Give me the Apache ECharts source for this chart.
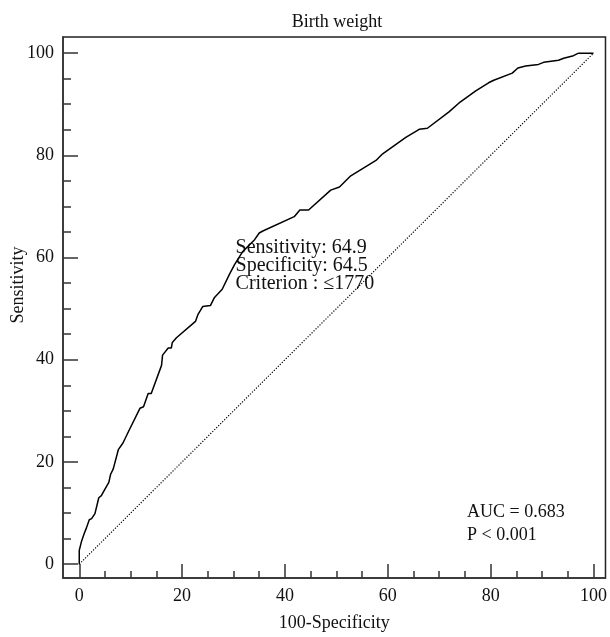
<!DOCTYPE html>
<html><head><meta charset="utf-8">
<script src="https://cdn.jsdelivr.net/npm/echarts@6/dist/echarts.min.js"></script>
<style>html,body{margin:0;padding:0;background:#fff}#c{width:610px;height:637px}</style>
</head><body><div id="c"></div>
<script>
// ROC curve
const fpr = [0, 0, 0.3, 0.45, 0.8, 1.0, 1.4, 1.95, 2.4, 3.05, 3.8, 4.3, 5.0, 5.75, 6.1, 6.6, 7.6, 8.5, 9.6, 11.8, 12.5, 13.4, 14.0, 16.0, 16.2, 17.3, 17.9, 18.1, 18.9, 22.6, 23.1, 24.0, 25.5, 26.3, 27.8, 29.2, 30.2, 31.8, 34.1, 35.0, 35.7, 41.8, 42.9, 44.6, 48.9, 50.6, 52.8, 57.7, 59.0, 63.5, 66.1, 67.7, 71.9, 73.8, 77.1, 79.6, 80.6, 84.2, 85.3, 86.8, 89.3, 90.3, 93.2, 94.2, 96.1, 97.1, 99.7, 100];
const tpr = [0, 2.7, 2.7, 4.5, 4.5, 6.1, 7.1, 8.7, 8.9, 9.9, 13.0, 13.4, 14.7, 16.0, 17.6, 18.6, 22.4, 23.7, 26.0, 30.5, 30.8, 33.4, 33.4, 38.9, 40.9, 42.3, 42.3, 43.4, 44.3, 47.5, 48.9, 50.4, 50.6, 52.2, 53.8, 56.7, 58.6, 61.2, 63.5, 64.8, 65.2, 68.0, 69.3, 69.3, 73.2, 73.8, 76.0, 79.0, 80.3, 83.5, 85.1, 85.3, 88.5, 90.2, 92.6, 94.2, 94.7, 96.1, 97.1, 97.5, 97.8, 98.2, 98.6, 99.0, 99.5, 100, 100, 100];
const refX = [0, 100];
const refY = [0, 100];
const majorTicks = [0, 20, 40, 60, 80, 100];
const minorTicks = [5, 10, 15, 25, 30, 35, 45, 50, 55, 65, 70, 75, 85, 90, 95];
const titleText = 'Birth weight';
const xName = '100-Specificity';
const yName = 'Sensitivity';
const criterionLines = ['Sensitivity: 64.9', 'Specificity: 64.5', 'Criterion : \u22641770'];
const criterionAt = [30.4, 63.7];
const statLines = ['AUC = 0.683', 'P < 0.001'];
const statAt = [75.4, 12.4];

const FONT = '"Liberation Serif", "Times New Roman", serif';
const TXT = '#111';
const chart = echarts.init(document.getElementById('c'), null, {renderer: 'canvas'});

function xAxisDef(ticks, len, major) {
  return {
    type: 'value', min: -3.16, max: 102.33, position: 'bottom',
    axisLine: {show: major, onZero: false, lineStyle: {color: '#333', width: 1.5}},
    splitLine: {show: false},
    axisTick: {show: true, inside: true, length: len, customValues: ticks, lineStyle: {color: '#333', width: 1.5}},
    axisLabel: major ? {customValues: majorTicks, margin: 9, fontFamily: FONT, fontSize: 18, color: TXT} : {show: false},
    name: major ? xName : '', nameLocation: 'middle', nameGap: 36,
    nameTextStyle: {fontFamily: FONT, fontSize: 18, color: TXT}
  };
}
function yAxisDef(ticks, len, major) {
  return {
    type: 'value', min: -2.71, max: 103.16, position: 'left',
    axisLine: {show: major, onZero: false, lineStyle: {color: '#333', width: 1.5}},
    splitLine: {show: false},
    axisTick: {show: true, inside: true, length: len, customValues: ticks, lineStyle: {color: '#333', width: 1.5}},
    axisLabel: major ? {customValues: majorTicks, margin: 9, fontFamily: FONT, fontSize: 18, color: TXT} : {show: false}
  };
}

chart.setOption({
  animation: false,
  backgroundColor: '#fff',
  grid: {left: 63, top: 37, right: 3, bottom: 54, show: true, borderColor: '#222', borderWidth: 1.5},
  xAxis: [xAxisDef(majorTicks, 14, true), xAxisDef(minorTicks, 7, false)],
  yAxis: [yAxisDef(majorTicks, 15, true), yAxisDef(minorTicks, 8, false)],
  series: [
    {type: 'line', xAxisIndex: 0, yAxisIndex: 0, data: fpr.map((x, i) => [x, tpr[i]]),
     showSymbol: false, lineStyle: {color: '#000', width: 1.5}},
    {type: 'line', xAxisIndex: 0, yAxisIndex: 0, data: refX.map((x, i) => [x, refY[i]]),
     showSymbol: false, lineStyle: {color: '#000', width: 1.2, type: [1.2, 1.6]}}
  ]
});

const cp = chart.convertToPixel({xAxisIndex: 0, yAxisIndex: 0}, criterionAt);
const sp = chart.convertToPixel({xAxisIndex: 0, yAxisIndex: 0}, statAt);
chart.setOption({
  graphic: [
    {type: 'text', x: 337, y: 22, style: {text: titleText, font: '18px ' + FONT, fill: TXT, textAlign: 'center', textVerticalAlign: 'middle'}},
    {type: 'text', x: 18, y: 285, rotation: Math.PI / 2, style: {text: yName, font: '18px ' + FONT, fill: TXT, textAlign: 'center', textVerticalAlign: 'middle'}},
    {type: 'text', x: cp[0], y: cp[1], style: {text: criterionLines.join('\n'), font: '20px ' + FONT, lineHeight: 18, fill: TXT, textAlign: 'left', textVerticalAlign: 'top'}},
    {type: 'text', x: sp[0], y: sp[1], style: {text: statLines.join('\n'), font: '18px ' + FONT, lineHeight: 23, fill: TXT, textAlign: 'left', textVerticalAlign: 'top'}}
  ]
});
</script></body></html>
